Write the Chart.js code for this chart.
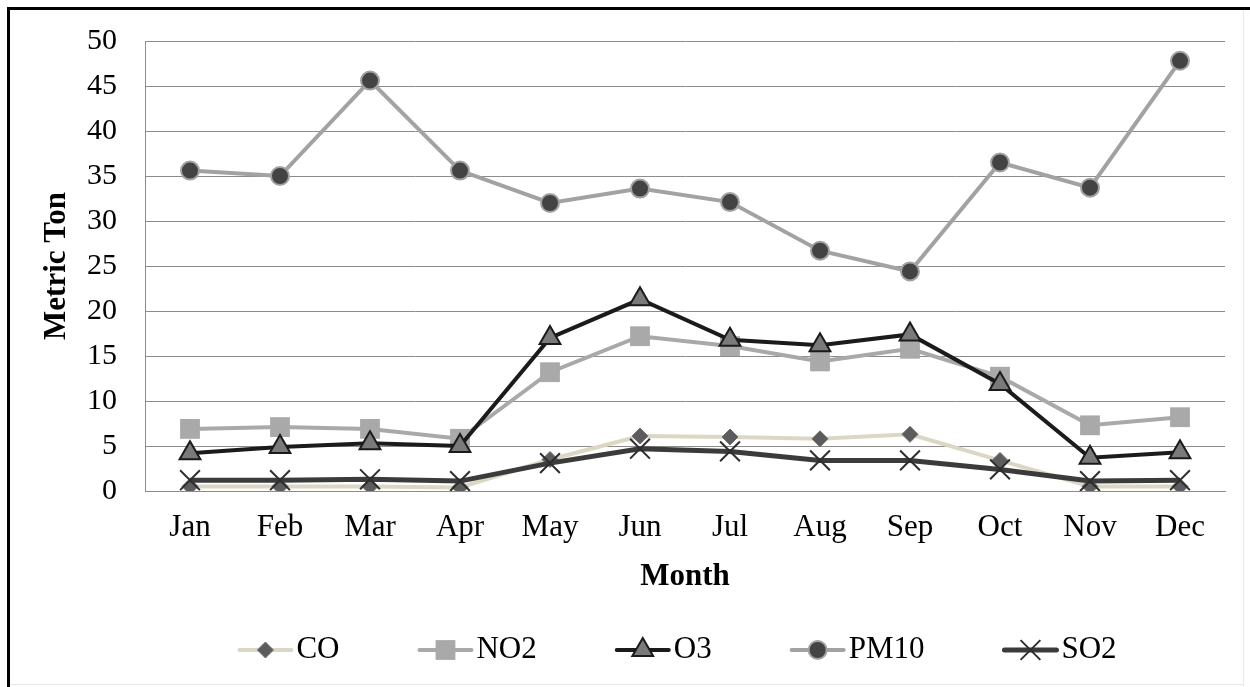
<!DOCTYPE html>
<html>
<head>
<meta charset="utf-8">
<title>Monthly emissions</title>
<script src="https://cdn.jsdelivr.net/npm/chart.js@4.4.1/dist/chart.umd.min.js"></script>
<style>
  html, body { margin: 0; padding: 0; background: #ffffff; }
  canvas { display: block; }
</style>
</head>
<body>
<canvas id="chart" width="1250" height="687"></canvas>
<script>
// Monthly emissions per pollutant (metric tons)
const months = ['Jan', 'Feb', 'Mar', 'Apr', 'May', 'Jun', 'Jul', 'Aug', 'Sep', 'Oct', 'Nov', 'Dec'];
const coValues   = [0.5, 0.5, 0.5, 0.4, 3.5, 6.1, 6.0, 5.8, 6.3, 3.4, 0.5, 0.5];
const no2Values  = [6.9, 7.1, 6.9, 5.8, 13.2, 17.2, 16.1, 14.4, 15.8, 12.7, 7.3, 8.2];
const o3Values   = [4.2, 4.9, 5.3, 5.0, 17.0, 21.3, 16.8, 16.2, 17.4, 11.9, 3.7, 4.3];
const pm10Values = [35.6, 35.0, 45.6, 35.6, 32.0, 33.6, 32.1, 26.7, 24.4, 36.5, 33.7, 47.8];
const so2Values  = [1.2, 1.2, 1.3, 1.1, 3.1, 4.7, 4.4, 3.4, 3.4, 2.4, 1.1, 1.2];
const yTickValues = [0, 5, 10, 15, 20, 25, 30, 35, 40, 45, 50];

const SERIF = "'Liberation Serif', 'Times New Roman', serif";

const datasets = [
  {
    label: 'CO', data: coValues, order: 5,
    borderColor: '#dcd7c5', borderWidth: 4,
    pointStyle: 'rectRot', pointRadius: 8, pointHoverRadius: 8,
    pointBackgroundColor: '#5c5c5c', pointBorderColor: '#6e6e6e', pointBorderWidth: 1
  },
  {
    label: 'NO2', data: no2Values, order: 4,
    borderColor: '#a9a9a9', borderWidth: 4,
    pointStyle: 'rect', pointRadius: 14, pointHoverRadius: 14,
    pointBackgroundColor: '#a9a9a9', pointBorderColor: '#a9a9a9', pointBorderWidth: 0
  },
  {
    label: 'O3', data: o3Values, order: 3,
    borderColor: '#1b1b1b', borderWidth: 4,
    pointStyle: 'triangle', pointRadius: 12, pointHoverRadius: 12,
    pointBackgroundColor: '#7a7a7a', pointBorderColor: '#1b1b1b', pointBorderWidth: 2
  },
  {
    label: 'PM10', data: pm10Values, order: 2,
    borderColor: '#a2a2a2', borderWidth: 4,
    pointStyle: 'circle', pointRadius: 9, pointHoverRadius: 9,
    pointBackgroundColor: '#434343', pointBorderColor: '#a2a2a2', pointBorderWidth: 2
  },
  {
    label: 'SO2', data: so2Values, order: 1,
    borderColor: '#3b3b3b', borderWidth: 5,
    pointStyle: 'crossRot', pointRadius: 14, pointHoverRadius: 14,
    pointBackgroundColor: '#2e2e2e', pointBorderColor: '#2e2e2e', pointBorderWidth: 2
  }
];

// White page with the black frame along the left and top edges
const framePlugin = {
  id: 'frame',
  beforeDraw(chart) {
    const ctx = chart.ctx;
    ctx.save();
    ctx.fillStyle = '#ffffff';
    ctx.fillRect(0, 0, chart.width, chart.height);
    ctx.restore();
  },
  afterDraw(chart) {
    const ctx = chart.ctx;
    ctx.save();
    ctx.fillStyle = '#e8e8e8';
    ctx.fillRect(1243, 10, 1, chart.height - 10);
    ctx.fillRect(10, 684, 1233, 1);
    ctx.fillStyle = '#000000';
    ctx.fillRect(7, 7, 3, chart.height - 7);
    ctx.fillRect(7, 7, chart.width - 7, 3);
    ctx.restore();
  }
};

// Series key below the axis: line sample with its marker, then the name
const seriesKeyPlugin = {
  id: 'seriesKey',
  afterDraw(chart) {
    const ctx = chart.ctx;
    const sets = chart.data.datasets;
    const sampleW = 56, textGap = 3, itemGap = 78, centerX = 677, y = 650;
    ctx.save();
    ctx.font = '31px ' + SERIF;
    ctx.textBaseline = 'middle';
    ctx.textAlign = 'left';
    const widths = sets.map(ds => sampleW + textGap + ctx.measureText(ds.label).width);
    const total = widths.reduce((a, b) => a + b, 0) + itemGap * (sets.length - 1);
    let x = centerX - total / 2;
    sets.forEach((ds, i) => {
      ctx.strokeStyle = ds.borderColor;
      ctx.lineWidth = ds.borderWidth;
      ctx.lineCap = 'round';
      ctx.beginPath();
      ctx.moveTo(x + 2, y);
      ctx.lineTo(x + sampleW - 2, y);
      ctx.stroke();
      ctx.fillStyle = ds.pointBackgroundColor;
      ctx.strokeStyle = ds.pointBorderColor;
      ctx.lineWidth = ds.pointBorderWidth;
      ctx.lineCap = 'butt';
      Chart.helpers.drawPoint(ctx, {
        pointStyle: ds.pointStyle,
        radius: ds.pointRadius,
        rotation: 0,
        borderWidth: ds.pointBorderWidth
      }, x + sampleW / 2, y);
      ctx.fillStyle = '#000000';
      ctx.fillText(ds.label, x + sampleW + textGap, y);
      x += widths[i] + itemGap;
    });
    ctx.restore();
  }
};

new Chart(document.getElementById('chart'), {
  type: 'line',
  data: { labels: months, datasets: datasets },
  plugins: [framePlugin, seriesKeyPlugin],
  options: {
    responsive: false,
    animation: false,
    devicePixelRatio: 1,
    layout: { padding: { left: 0, right: 25, top: 41, bottom: 91 } },
    elements: { line: { tension: 0, fill: false } },
    plugins: {
      legend: { display: false },
      tooltip: { enabled: false }
    },
    scales: {
      x: {
        offset: true,
        grid: { display: false, drawTicks: false },
        border: { display: true, color: '#8c8c8c', width: 1 },
        ticks: { color: '#000000', font: { family: SERIF, size: 31 }, padding: 18 },
        title: {
          display: true, text: 'Month', color: '#000000',
          font: { family: SERIF, size: 31, weight: 'bold' },
          padding: { top: 0, bottom: 0 }
        },
        afterFit(scale) { scale.height = 105; }
      },
      y: {
        min: 0, max: 50,
        afterBuildTicks(scale) { scale.ticks = yTickValues.map(v => ({ value: v })); },
        grid: { color: '#8c8c8c', lineWidth: 1, drawTicks: false },
        border: { display: true, color: '#8c8c8c', width: 1 },
        ticks: { color: '#000000', font: { family: SERIF, size: 30 }, padding: 28 },
        title: {
          display: true, text: 'Metric Ton', color: '#000000',
          font: { family: SERIF, size: 31, weight: 'bold' },
          padding: { top: 38, bottom: 0 }
        },
        afterFit(scale) {
          scale.width = 145;
          // the plot area edges are set by the layout padding alone
          scale.paddingTop = 0;
          scale.paddingBottom = 0;
        }
      }
    }
  }
});
</script>
</body>
</html>
